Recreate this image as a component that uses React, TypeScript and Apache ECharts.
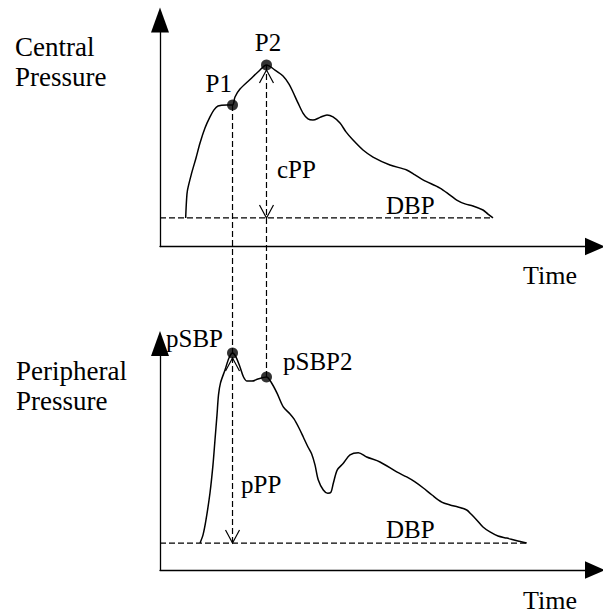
import { useEffect, useRef } from "react";
import * as echarts from "echarts";

// Central (aortic) pressure waveform: time in ms, pressure in arbitrary units
const centralTime = [
  59, 61, 63.2, 72.9, 82.8, 92.0, 103.4, 114.9, 124.1, 133.3, 153.3, 166.7, 172.4, 183.9, 206.9,
  227.6, 244.8, 264.4, 282.8, 296.6, 305.7, 317.2, 328.7, 340.2, 351.7, 367.8, 383.9, 397.7,
  413.8, 427.6, 443.7, 466.7, 489.7, 528.7, 567.1, 586.2, 604.6, 643.7, 666.7, 682.1, 701.1,
  719.5, 742.5, 754.0, 765.5,
];
const centralPressure = [
  12.6, 20.5, 24.9, 32.5, 39.1, 45.7, 52.3, 57.2, 60.3, 62.0, 62.5, 62.5, 66.0, 69.5, 73.7,
  77.5, 80.1, 77.9, 75.3, 71.7, 68.2, 63.4, 58.9, 56.3, 55.8, 57.0, 58.1, 57.2,
  54.5, 50.6, 47.0, 42.6, 39.5, 36.0, 33.8, 31.6, 29.4, 25.8, 22.7, 20.5, 18.8,
  17.9, 16.1, 14.3, 12.6,
];

// Peripheral (radial) pressure waveform
const peripheralTime = [
  92.0, 98.9, 105.7, 114.9, 121.8, 126.4, 131.0, 134.5, 139.1, 149.4, 158.6, 166.7, 174.7,
  183.9, 192.0, 200.0, 211.5, 225.3, 244.8, 255.2, 269.0, 283.4, 298.9, 308.0, 319.5, 329.4,
  340.2, 348.7, 356.3, 363.9, 375.4, 385.5, 393.1, 398.4, 407.6, 421.4, 436.8, 455.9, 475.2,
  505.7, 544.1, 567.1, 586.2, 605.3, 625.3, 647.6, 666.7, 685.1, 705.1, 715.0, 728.0, 742.5,
  758.6, 777.0, 797.0, 818.4, 843.0,
];
const peripheralPressure = [
  11.9, 15.5, 22.1, 34.0, 46.4, 57.4, 68.4, 77.3, 82.6, 88.3, 93.6, 95.8, 94.0,
  89.6, 85.2, 83.4, 83.4, 84.3, 85.2, 83.0, 78.1, 72.0, 68.9, 66.7, 62.7, 58.7,
  54.3, 51.2, 46.4, 39.7, 35.3, 33.9, 34.4, 38.3, 44.2, 47.1, 50.8, 51.8, 49.9,
  47.7, 43.3, 41.1, 38.9, 36.2, 33.1, 30.0, 28.7, 27.8, 26.5, 24.7, 22.1, 19.0,
  16.8, 15.0, 14.1, 13.0, 11.9,
];

// Diastolic levels
const centralDBP = 12.6;
const peripheralDBP = 11.9;

// Marked points on each waveform
const centralMarkerNames = ["P1", "P2"];
const centralMarkerTime = [166.7, 244.8];
const centralMarkerValue = [62.5, 80.1];
const peripheralMarkerNames = ["pSBP", "pSBP2"];
const peripheralMarkerTime = [166.7, 244.8];
const peripheralMarkerValue = [95.8, 85.2];

const FAMILY = "'Liberation Serif', 'Times New Roman', serif";
const MID = 0.3375; // distance from alphabetic baseline to the central baseline, in em
const INK = "#000";
const DASH = [6, 3];

function pairs(xs: number[], ys: number[]) {
  return xs.map((x, i) => [x, ys[i]]);
}

export default function App() {
  const ref = useRef<HTMLDivElement>(null);

  useEffect(() => {
    document.body.style.margin = "0";
    if (!ref.current) return;
    const chart = echarts.init(ref.current, undefined, { renderer: "svg" });

    const axisLine = (size: number[]) => ({
      show: true,
      symbol: ["none", "triangle"],
      symbolSize: size,
      lineStyle: { color: INK, width: 1.3 },
    });
    const hidden = {
      axisTick: { show: false },
      axisLabel: { show: false },
      splitLine: { show: false },
    };

    chart.setOption({
      animation: false,
      grid: [
        { left: 160, top: 20, width: 435, height: 226.5 },
        { left: 160, top: 343.5, width: 435, height: 226.5 },
      ],
      xAxis: [0, 1].map((g) => ({
        type: "value",
        gridIndex: g,
        min: 0,
        max: 1000,
        axisLine: axisLine([17.5, 20]),
        ...hidden,
      })),
      yAxis: [0, 1].map((g) => ({
        type: "value",
        gridIndex: g,
        min: 0,
        max: 100,
        axisLine: axisLine([18, 25]),
        ...hidden,
      })),
      series: [
        {
          type: "line",
          xAxisIndex: 0,
          yAxisIndex: 0,
          data: pairs(centralTime, centralPressure),
          smooth: 0.3,
          symbol: "none",
          lineStyle: { color: INK, width: 1.5 },
          z: 2,
        },
        {
          type: "line",
          xAxisIndex: 0,
          yAxisIndex: 0,
          data: [
            [0, centralDBP],
            [centralTime[centralTime.length - 1], centralDBP],
          ],
          symbol: "none",
          lineStyle: { color: INK, width: 1.2, type: DASH },
          z: 2,
        },
        {
          type: "scatter",
          xAxisIndex: 0,
          yAxisIndex: 0,
          data: pairs(centralMarkerTime, centralMarkerValue),
          symbolSize: 11,
          itemStyle: { color: INK },
          z: 4,
        },
        {
          type: "line",
          xAxisIndex: 1,
          yAxisIndex: 1,
          data: pairs(peripheralTime, peripheralPressure),
          smooth: 0.3,
          symbol: "none",
          lineStyle: { color: INK, width: 1.5 },
          z: 2,
        },
        {
          type: "line",
          xAxisIndex: 1,
          yAxisIndex: 1,
          data: [
            [0, peripheralDBP],
            [peripheralTime[peripheralTime.length - 1], peripheralDBP],
          ],
          symbol: "none",
          lineStyle: { color: INK, width: 1.2, type: DASH },
          z: 2,
        },
        {
          type: "scatter",
          xAxisIndex: 1,
          yAxisIndex: 1,
          data: pairs(peripheralMarkerTime, peripheralMarkerValue),
          symbolSize: 11,
          itemStyle: { color: INK },
          z: 4,
        },
      ],
    });

    const px = (g: number, t: number, v: number) =>
      chart.convertToPixel({ gridIndex: g }, [t, v]) as number[];

    const p1 = px(0, centralMarkerTime[0], centralMarkerValue[0]);
    const p2 = px(0, centralMarkerTime[1], centralMarkerValue[1]);
    const cDbpAtP2 = px(0, centralMarkerTime[1], centralDBP);
    const ps1 = px(1, peripheralMarkerTime[0], peripheralMarkerValue[0]);
    const ps2 = px(1, peripheralMarkerTime[1], peripheralMarkerValue[1]);
    const pDbpAtP1 = px(1, centralMarkerTime[0], peripheralDBP);
    const cDbpStart = px(0, 0, centralDBP);
    const pDbpStart = px(1, 0, peripheralDBP);

    const dashed = (a: number[], b: number[]) => ({
      type: "line",
      z: 1,
      shape: { x1: a[0], y1: a[1], x2: b[0], y2: b[1] },
      style: { stroke: INK, lineWidth: 1.2, lineDash: DASH, fill: null },
    });
    // open V arrowhead; dir = 1 points up (arms below the tip), -1 points down
    const head = (x: number, tipY: number, dir: number) => ({
      type: "polyline",
      z: 1,
      shape: {
        points: [
          [x - 7, tipY + 13 * dir],
          [x, tipY],
          [x + 7, tipY + 13 * dir],
        ],
      },
      style: { stroke: INK, lineWidth: 1.2, fill: null },
    });
    const label = (
      text: string,
      x: number,
      baseline: number,
      align: string,
      size = 25
    ) => ({
      type: "text",
      z: 5,
      x,
      y: baseline - MID * size,
      style: {
        text,
        fill: INK,
        font: `${size}px ${FAMILY}`,
        align,
        verticalAlign: "middle",
      },
    });
    const title = (text: string, x: number, firstBaseline: number) => ({
      type: "text",
      z: 5,
      x,
      y: firstBaseline - MID * 27 - 15,
      style: {
        text,
        fill: INK,
        font: `27px ${FAMILY}`,
        lineHeight: 30,
        align: "left",
        verticalAlign: "top",
      },
    });

    chart.setOption({
      graphic: [
        // P1 -> peripheral DBP (also the pPP shaft); P2 -> pSBP2 (also the cPP shaft)
        dashed(p1, pDbpAtP1),
        dashed(p2, ps2),
        head(p2[0], p2[1] + 5, 1),
        head(cDbpAtP2[0], cDbpAtP2[1], -1),
        head(ps1[0], ps1[1] + 5, 1),
        head(pDbpAtP1[0], pDbpAtP1[1], -1),
        title("Central\nPressure", 15, 56),
        title("Peripheral\nPressure", 16, 380),
        label("Time", 577, 284, "right", 26),
        label("Time", 577, 609, "right", 26),
        label(centralMarkerNames[0], p1[0] - 0.5, p1[1] - 13, "right"),
        label(centralMarkerNames[1], p2[0] + 1.5, p2[1] - 14, "center"),
        label(peripheralMarkerNames[0], ps1[0] - 9.5, ps1[1] - 6, "right"),
        label(peripheralMarkerNames[1], ps2[0] + 16.5, ps2[1] - 7, "left"),
        label("cPP", p2[0] + 10.5, cDbpAtP2[1] - 40, "left"),
        label("pPP", p1[0] + 8.5, pDbpAtP1[1] - 50, "left"),
        label("DBP", cDbpStart[0] + 226, cDbpStart[1] - 4, "left"),
        label("DBP", pDbpStart[0] + 226, pDbpStart[1] - 5, "left"),
      ],
    });

    return () => chart.dispose();
  }, []);

  return <div ref={ref} style={{ width: 603, height: 615 }} />;
}
